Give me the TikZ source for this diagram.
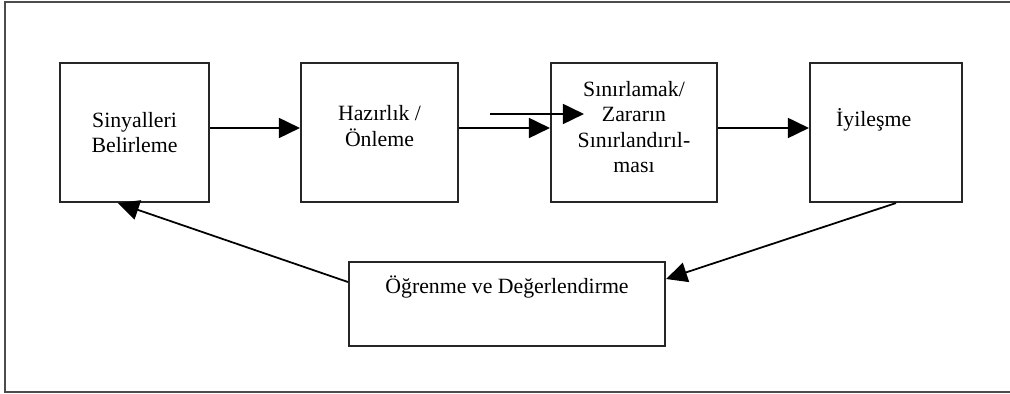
\documentclass[tikz,border=0pt]{standalone}
\usepackage{fontspec}
\setmainfont{Liberation Serif}
\usepackage{tikz}
\usetikzlibrary{positioning,arrows.meta}

\begin{document}
\begin{tikzpicture}
\useasboundingbox (0,0) rectangle (20.2,7.88);
\draw[line width=0.6pt, black!70] (20.2,7.84) -- (0.1,7.84) -- (0.1,0.04) -- (20.2,0.04);
\tikzstyle{kutu}=[draw, line width=1.2pt, black!85, shape=rectangle, inner sep=0pt];
\tikzstyle{yazi}=[align=center, font=\fontsize{12.4}{14.4}\selectfont];
\tikzstyle{ok}=[line width=1pt, -{Triangle[length=0.42cm,width=0.4cm]}];

\draw node[kutu, minimum width=2.98cm, minimum height=2.78cm] (k1) at (2.69,5.23) {};
\draw node[kutu, minimum width=3.14cm, minimum height=2.78cm] (k2) at (7.59,5.23) {};
\draw node[kutu, minimum width=3.32cm, minimum height=2.78cm] (k3) at (12.68,5.23) {};
\draw node[kutu, minimum width=3.04cm, minimum height=2.78cm] (k4) at (17.72,5.23) {};
\draw node[kutu, minimum width=6.32cm, minimum height=1.68cm] (k5) at (10.14,1.8) {};

\node[yazi] (t1) at (k1) {Sinyalleri\\Belirleme};
\node[yazi] (t2) at ([yshift=0.13cm]k2.center) {Hazırlık /\\Önleme};
\node[yazi] (t3) at ([yshift=0.11cm]k3.center) {Sınırlamak/\\Zararın\\Sınırlandırıl-\\ması};
\node[yazi, anchor=west] (t4) at ([xshift=0.42cm,yshift=0.25cm]k4.west) {İyileşme};
\node[yazi] (t5) at ([yshift=0.34cm]k5.center) {Öğrenme ve Değerlendirme};

\coordinate (c0) at (9.8,5.6);
\draw[ok] ([yshift=0.09cm]k1.east) -- ([yshift=0.09cm]k2.west);
\draw[ok] ([yshift=0.09cm]k2.east) -- ([yshift=0.09cm]k3.west);
\draw[ok] (c0) -- ([xshift=0.68cm,yshift=0.37cm]k3.west);
\draw[ok] ([yshift=0.09cm]k3.east) -- ([yshift=0.09cm]k4.west);
\draw[ok] ([xshift=0.2cm]k4.south) -- ([yshift=0.5cm]k5.east);
\draw[ok] ([yshift=0.44cm]k5.west) -- ([xshift=-0.33cm]k1.south);
\end{tikzpicture}
\end{document}
